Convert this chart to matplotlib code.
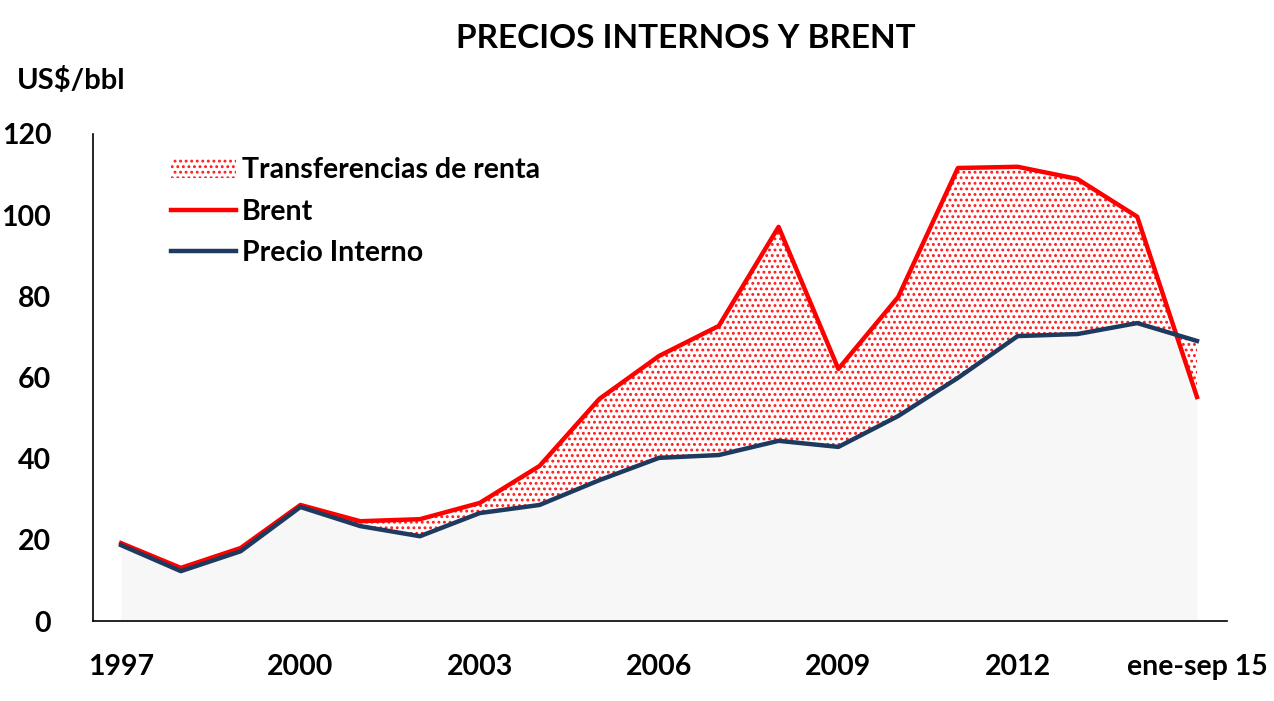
import numpy as np
import matplotlib.pyplot as plt

plt.rcParams['font.family'] = ['Lato', 'DejaVu Sans']
plt.rcParams['hatch.linewidth'] = 1.3

years = list(range(1997, 2016))
brent = [19.2, 13.1, 18.0, 28.6, 24.6, 25.1, 29.1, 38.2, 54.7, 65.3, 72.7,
         97.1, 62.1, 79.8, 111.6, 111.9, 108.9, 99.6, 55.2]
interno = [18.7, 12.3, 17.2, 28.1, 23.4, 20.9, 26.6, 28.6, 34.7, 40.2, 40.9,
           44.4, 42.9, 50.5, 59.9, 70.2, 70.7, 73.4, 69.0]
tick_years = [1997, 2000, 2003, 2006, 2009, 2012, 2015]
tick_labels = ['1997', '2000', '2003', '2006', '2009', '2012', 'ene-sep 15']

fig = plt.figure(figsize=(12.74, 7.01), dpi=100)
ax = fig.add_axes([0.073, 0.114, 0.89, 0.695])

b = np.array(brent)
p = np.array(interno)

# gray area under the domestic price, dotted area between the two series
ax.fill_between(years, 0, p, color='#f7f7f7', lw=0)
ax.fill_between(years, p, b, facecolor='white', edgecolor='#ff1a1a',
                hatch='...', lw=0, interpolate=True,
                label='Transferencias de renta')
ax.fill_between(years, 0, np.minimum(b, p), where=b < p, color='#f7f7f7',
                lw=0, interpolate=True)
ax.plot(years, brent, color='#ff0000', lw=3.2, label='Brent')
ax.plot(years, interno, color='#1f3a5f', lw=3.2, label='Precio Interno')

ax.set_xlim(1996.53, 2015.5)
ax.set_ylim(0, 120)
ax.set_yticks(range(0, 121, 20))
ax.set_xticks(tick_years)
ax.set_xticklabels(tick_labels)
ax.tick_params(length=0, labelsize=20.5, pad=24)
ax.tick_params(axis='y', pad=30)
for lab in ax.get_xticklabels() + ax.get_yticklabels():
    lab.set_fontweight('bold')
for s in ['top', 'right']:
    ax.spines[s].set_visible(False)
for s in ['left', 'bottom']:
    ax.spines[s].set_linewidth(1.2)

fig.text(0.538, 0.945, 'PRECIOS INTERNOS Y BRENT', ha='center', va='center',
         fontsize=24, fontweight='bold')
fig.text(0.013, 0.885, 'US$/bbl', ha='left', va='center',
         fontsize=21, fontweight='bold')

leg = ax.legend(loc='upper left', bbox_to_anchor=(0.046, 1.005), frameon=False,
                prop={'size': 20.5, 'weight': 'bold'}, handlelength=2.3,
                handletextpad=0.2, labelspacing=0.55)

fig.savefig('out.png', dpi=100)
